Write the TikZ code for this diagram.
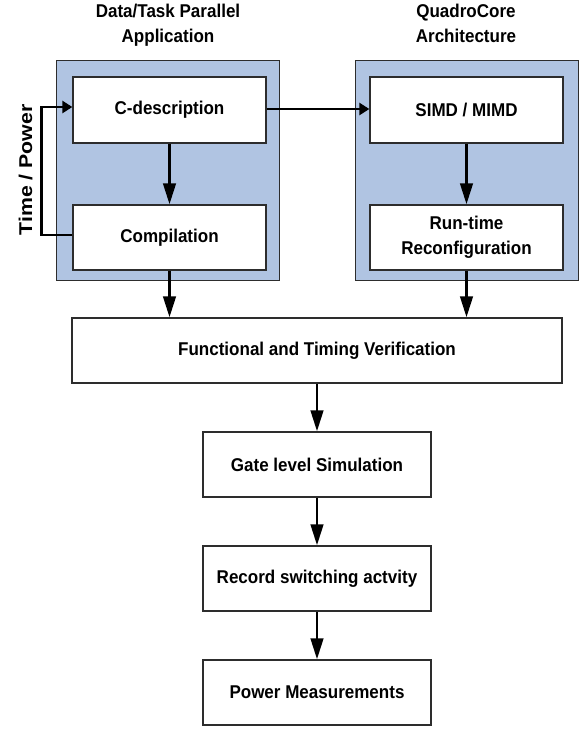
\documentclass[tikz,border=0pt]{standalone}
\usepackage{fontspec}
\newfontfamily\labfont{Liberation Sans}[FakeStretch=0.92]
\newfontfamily\sidefont{Liberation Sans}[FakeStretch=1.15]
\usetikzlibrary{arrows.meta}
\definecolor{panelblue}{RGB}{176,196,226}
\definecolor{edgegray}{RGB}{45,45,45}
\begin{document}
\begin{tikzpicture}[x=1pt,y=-1pt,
  lab/.style={font=\labfont\bfseries\fontsize{18.5}{25}\selectfont, align=center, text=black},
  panel/.style={draw=edgegray, line width=1pt, fill=panelblue, inner sep=0pt},
  stage/.style={draw=edgegray, line width=1.3pt, fill=white, lab, inner sep=0pt},
  flow/.style={line width=2.8pt, -{Triangle[length=21pt,width=12.5pt]}},
  sideflow/.style={line width=2.8pt, -{Triangle[length=10pt,width=12pt]}},
]
\useasboundingbox[fill=white] (0,0) rectangle (585,732);

% column titles
\node[lab, inner sep=0pt] (apptitle) at (168,25.7) {Data/Task Parallel\\Application};
\node[lab, inner sep=0pt] (archtitle) at (466,23.8) {QuadroCore\\Architecture};

% blue panels
\node[panel, minimum width=223pt, minimum height=220pt] (leftpanel) at (167.5,170) {};
\node[panel, minimum width=223pt, minimum height=220pt] (rightpanel) at (466.5,170) {};

% stages inside the panels
\node[stage, minimum width=193pt, minimum height=66pt] (cdesc) at (169.5,110) {C-description};
\node[stage, minimum width=193pt, minimum height=65pt] (comp) at (169.5,237.5) {Compilation};
\node[stage, minimum width=193pt, minimum height=66pt] (simd) at (466.5,110) {SIMD / MIMD};
\node[stage, minimum width=193pt, minimum height=65pt] (rtr) at (466.5,237.5) {Run-time\\Reconfiguration};

% verification and power flow
\node[stage, minimum width=490pt, minimum height=65pt] (func) at (317,350.5) {Functional and Timing Verification};
\node[stage, minimum width=228pt, minimum height=65pt] (gate) at (317,464.5) {Gate level Simulation};
\node[stage, minimum width=228pt, minimum height=65pt] (rec) at (317,578.5) {Record switching actvity};
\node[stage, minimum width=228pt, minimum height=65pt] (pow) at (317,692.5) {Power Measurements};

% feedback label
\node[rotate=90, anchor=base, inner sep=0pt, font=\sidefont\bfseries\fontsize{18.5}{22}\selectfont] (tplabel) at (32,170) {Time / Power};

% connectors
\draw[flow] (cdesc) -- (comp);
\draw[flow] (simd) -- (rtr);
\draw[sideflow] ([yshift=1pt]cdesc.east) -- ([yshift=1pt]simd.west);
\draw[sideflow] ([yshift=2.5pt]comp.west) -- ++(-31,0) |- ([yshift=3pt]cdesc.west);
\draw[flow] (comp.south) -- (comp.south |- func.north);
\draw[flow] (rtr.south) -- (rtr.south |- func.north);
\draw[flow] (func) -- (gate);
\draw[flow] (gate) -- (rec);
\draw[flow] (rec) -- (pow);
\end{tikzpicture}
\end{document}
